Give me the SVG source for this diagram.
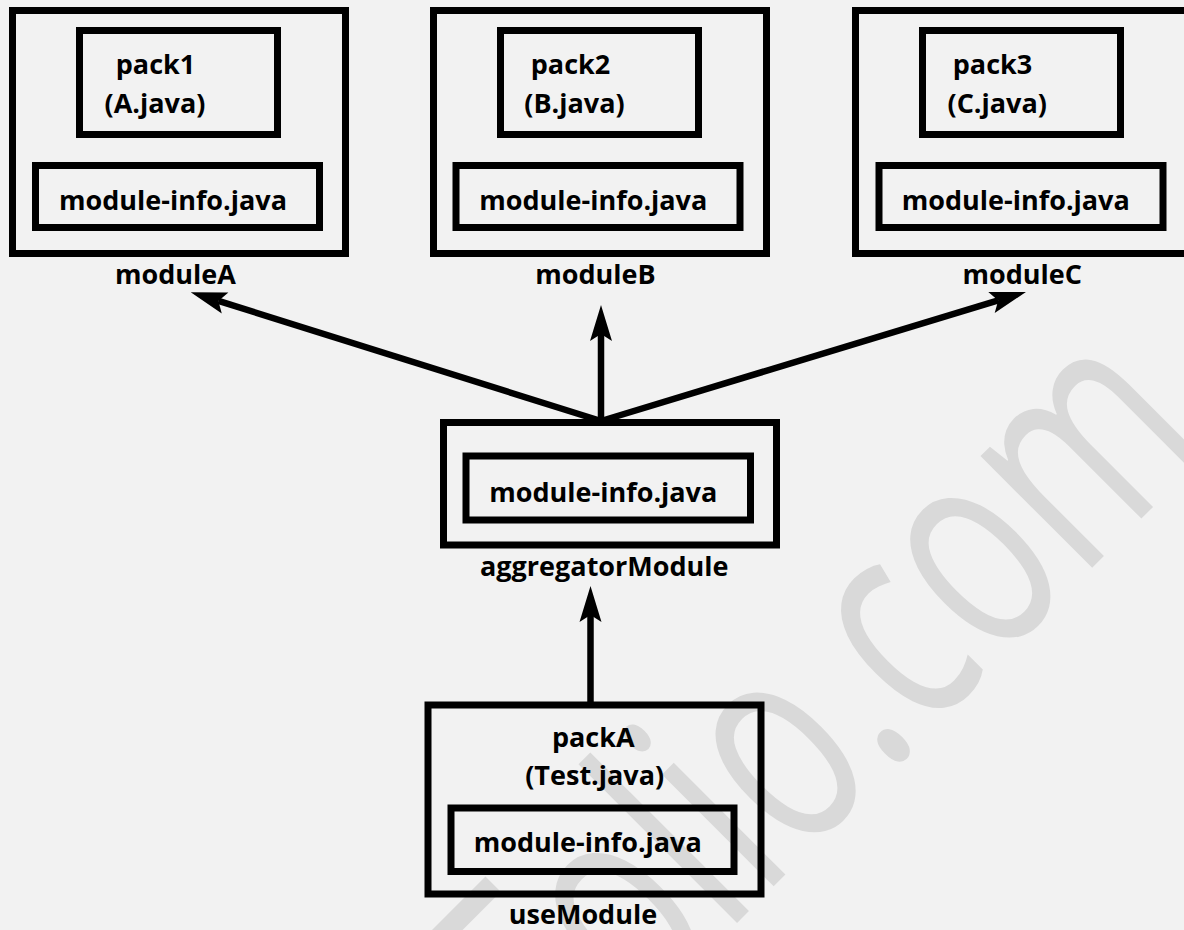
<svg xmlns="http://www.w3.org/2000/svg" width="1184" height="930" viewBox="0 0 1184 930">
  <defs>
    <style>
      .box { fill: none; stroke: #000; stroke-width: 7; }
      .lbl { font-family: "Open Sans", "Liberation Sans", sans-serif; font-weight: 700; font-size: 27px; fill: #000; text-anchor: middle; }
      .edge { fill: none; stroke: #000; stroke-width: 6.5; marker-end: url(#arrow); }
      .mark { font-family: "Open Sans", "Liberation Sans", sans-serif; font-weight: 400; font-size: 205px; fill: #d9d9d9; }
    </style>
    <marker id="arrow" markerUnits="userSpaceOnUse" viewBox="-8 -12 40 24" markerWidth="40" markerHeight="24" refX="0" refY="0" orient="auto" overflow="visible">
      <path d="M-7,-11 L29,0 L-7,11 L0,0 Z" fill="#000"/>
    </marker>
  </defs>

  <rect width="1184" height="930" fill="#f2f2f2"/>

  <!-- faint background watermark, set on a 45 degree slant -->
  <text class="mark" transform="translate(562.7,1097.3) rotate(-45) scale(1,1.44)">Folio.com</text>

  <g id="moduleA">
    <rect class="box" x="12.5" y="10.5" width="333" height="243"/>
    <rect class="box" x="79.5" y="30.5" width="198" height="104"/>
    <text class="lbl" x="155.5" y="74">pack1</text>
    <text class="lbl" x="155" y="113">(A.java)</text>
    <rect class="box" x="35.5" y="165.5" width="284" height="62"/>
    <text class="lbl" x="173" y="210">module-info.java</text>
    <text class="lbl" x="175.5" y="284">moduleA</text>
  </g>

  <g id="moduleB">
    <rect class="box" x="433.5" y="10.5" width="333" height="243"/>
    <rect class="box" x="500.5" y="30.5" width="198" height="104"/>
    <text class="lbl" x="570.5" y="74">pack2</text>
    <text class="lbl" x="574.5" y="113">(B.java)</text>
    <rect class="box" x="456" y="165.5" width="284" height="62"/>
    <text class="lbl" x="593.3" y="210">module-info.java</text>
    <text class="lbl" x="595.5" y="284">moduleB</text>
  </g>

  <g id="moduleC">
    <rect class="box" x="855.5" y="10.5" width="333" height="243"/>
    <rect class="box" x="922.5" y="30.5" width="198" height="104"/>
    <text class="lbl" x="992.5" y="74">pack3</text>
    <text class="lbl" x="997.2" y="113">(C.java)</text>
    <rect class="box" x="879" y="165.5" width="284" height="62"/>
    <text class="lbl" x="1015.8" y="210">module-info.java</text>
    <text class="lbl" x="1022.2" y="284">moduleC</text>
  </g>

  <g id="aggregatorModule">
    <rect class="box" x="443.5" y="422.5" width="333" height="122.5"/>
    <rect class="box" x="466" y="456" width="284.5" height="64"/>
    <text class="lbl" x="603.3" y="501.7">module-info.java</text>
    <text class="lbl" x="604.3" y="576">aggregatorModule</text>
  </g>

  <g id="useModule">
    <rect class="box" x="428" y="705" width="333" height="189"/>
    <text class="lbl" x="593.3" y="746.7">packA</text>
    <text class="lbl" x="594.7" y="785">(Test.java)</text>
    <rect class="box" x="451" y="808" width="283" height="63.5"/>
    <text class="lbl" x="587.8" y="851.7">module-info.java</text>
    <text class="lbl" x="583" y="924">useModule</text>
  </g>

  <g id="connectors">
    <line class="edge" x1="601" y1="421" x2="218.4" y2="300.9"/>
    <line class="edge" x1="601" y1="421" x2="601" y2="334"/>
    <line class="edge" x1="601" y1="421" x2="998.2" y2="300.4"/>
    <line class="edge" x1="590.5" y1="702" x2="590.5" y2="615"/>
  </g>
</svg>
